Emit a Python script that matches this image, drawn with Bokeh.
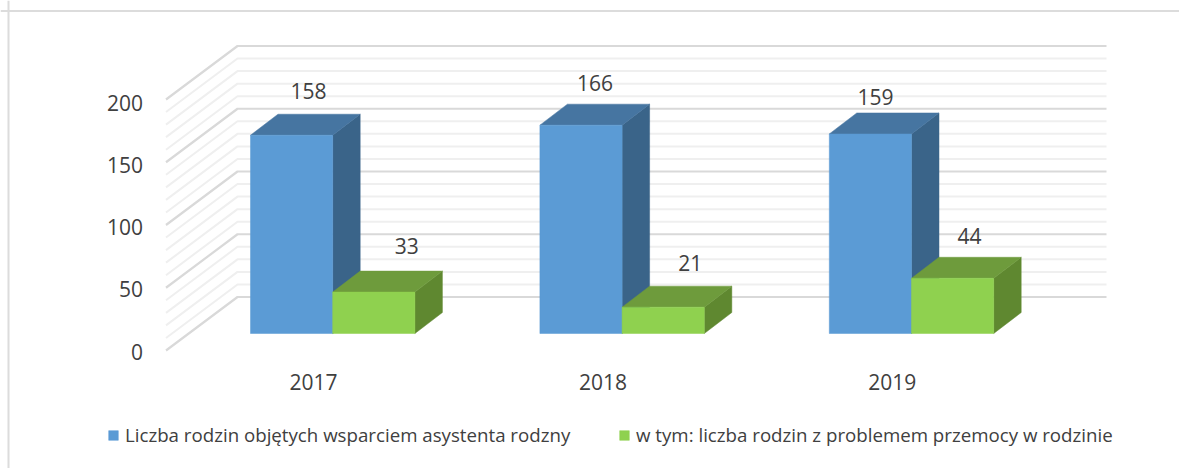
from bokeh.embed import file_html
from bokeh.resources import INLINE
from bokeh.plotting import figure
from bokeh.models import (FixedTicker, Legend, LegendItem, LinearAxis, Range1d, Span)
from bokeh.core.properties import value

# ---- data ----
years = [2017, 2018, 2019]
families = [158, 166, 159]
violence = [33, 21, 44]
series_names = ["Liczba rodzin objętych wsparciem asystenta rodzny",
                "w tym: liczba rodzin z problemem przemocy w rodzinie"]
y_ticks = [0, 50, 100, 150, 200]
grid_values = [0, 10, 20, 30, 40, 50, 60, 70, 80, 90, 100, 110, 120, 130, 140, 150, 160, 170, 180, 190, 200]

# ---- layout constants (page pixels of the 3-D projection) ----
W, H = 1179, 468
FONT = "Open Sans"
TEXT = "#404040"
PX_X = 289.4          # pixels per category
PX_Y = 1.255          # pixels per value unit
X0_PX, Y0_PX = 313.0, 350.0   # pixel of year 2017 label / of value 0 on the front wall edge
FRAME_L, FRAME_T = 0.0, 0.0

xd = lambda dpx: dpx / PX_X   # pixel distance -> data distance
yd = lambda dpx: dpx / PX_Y

x_start = years[0] + xd(FRAME_L - X0_PX)
x_end = x_start + xd(W)
y_end = yd(Y0_PX - FRAME_T)
y_start = y_end - yd(H)

p = figure(width=W, height=H, output_backend="svg", toolbar_location=None,
           x_range=Range1d(x_start, x_end), y_range=Range1d(y_start, y_end),
           x_axis_location=None, y_axis_location=None, min_border=0,
           background_fill_color="white", border_fill_color="white", outline_line_color=None)
p.grid.visible = False

# frame of the chart
p.add_layout(Span(location=x_start + xd(8), dimension="height", line_color="#dcdcdc", line_width=2))
p.add_layout(Span(location=y_end - yd(10.5), dimension="width", line_color="#dcdcdc", line_width=2))
# the frame starts at the border corner: mask what lies left of / above it
p.quad(left=[x_start], right=[x_start + xd(7)], bottom=[y_start], top=[y_end],
       fill_color="white", line_color=None)
p.quad(left=[x_start], right=[x_end], bottom=[y_end - yd(9.5)], top=[y_end],
       fill_color="white", line_color=None)

# walls
wall_left = years[0] + xd(165.5 - X0_PX)
wall_back = years[0] + xd(237 - X0_PX)
wall_right = years[0] + xd(1106 - X0_PX)
wall_dy = yd(53.5)
for major in (False, True):
    vals = [v for v in grid_values if (v % 50 == 0) == major]
    p.multi_line([[wall_left, wall_back, wall_right] for _ in vals],
                 [[v, v + wall_dy, v + wall_dy] for v in vals],
                 line_color="#d9d9d9" if major else "#efefef",
                 line_width=2.2 if major else 2.0)

# bars
BAR_W = xd(82.2)
DX, DY = xd(27.5), yd(21)
BASE = yd(17)

def box(lefts, vals, front, top, side):
    rights = [l + BAR_W for l in lefts]
    tops = [BASE + v for v in vals]
    p.patches([[r, r + DX, r + DX, r] for r in rights],
              [[BASE, BASE + DY, t + DY, t] for t in tops],
              fill_color=side, line_color=side, line_width=0.5)
    p.patches([[l, l + DX, r + DX, r] for l, r in zip(lefts, rights)],
              [[t, t + DY, t + DY, t] for t in tops],
              fill_color=top, line_color=top, line_width=0.5)
    return p.quad(left=lefts, right=rights, bottom=[BASE] * len(vals), top=tops,
                  fill_color=front, line_color=front, line_width=0.5)

left1 = [y + xd(250 - X0_PX) for y in years]
left2 = [l + BAR_W for l in left1]
r1 = box(left1, families, "#5B9BD5", "#4675A1", "#3A6489")
r2 = box(left2, violence, "#8FD14F", "#6E9B3C", "#5F8830")

# value labels, nudged by hand as in the source
nudge1 = [(17, 44), (14, 42), (5, 37)]
nudge2 = [(33, 46), (27, 44), (17, 42)]
lab_x = [l + BAR_W / 2 + xd(n[0]) for l, n in zip(left1, nudge1)] + \
        [l + BAR_W / 2 + xd(n[0]) for l, n in zip(left2, nudge2)]
lab_v = families + violence
lab_y = [BASE + v + yd(n[1]) for v, n in zip(lab_v, nudge1 + nudge2)]
p.text(x=lab_x, y=lab_y, text=[str(v) for v in lab_v], text_font=value(FONT),
       text_font_size="21px", text_color=TEXT, text_align="center", text_baseline="middle")

# value axis
p.extra_y_ranges["ticks"] = Range1d(start=-(FRAME_T + H - (Y0_PX + 1)) / 1.245,
                                    end=(Y0_PX + 1 - FRAME_T) / 1.245)
ax = LinearAxis(y_range_name="ticks", ticker=FixedTicker(ticks=y_ticks),
                fixed_location=years[0] + xd(156.5 - X0_PX),
                axis_line_color=None, major_tick_line_color=None, minor_tick_line_color=None,
                major_label_text_font=FONT, major_label_text_font_size="21px",
                major_label_text_color=TEXT, major_label_standoff=8)
p.add_layout(ax, "left")

# category axis
xax = LinearAxis(ticker=FixedTicker(ticks=years),
                 major_label_overrides={y: str(y) for y in years},
                 fixed_location=yd(Y0_PX - 363),
                 axis_line_color=None, major_tick_line_color=None, minor_tick_line_color=None,
                 major_label_text_font=FONT, major_label_text_font_size="21px",
                 major_label_text_color=TEXT, major_label_standoff=4)
p.add_layout(xax, "below")

# legend
leg_kw = dict(orientation="horizontal", background_fill_alpha=0, border_line_color=None,
              margin=0, padding=0, glyph_width=12, glyph_height=12, label_standoff=6,
              label_height=20,
              label_text_font=FONT, label_text_font_size="18.7px", label_text_color=TEXT)
p.add_layout(Legend(items=[LegendItem(label=series_names[0], renderers=[r1])],
                    location=(107 - FRAME_L, FRAME_T + H - 447), **leg_kw), "center")
p.add_layout(Legend(items=[LegendItem(label=series_names[1], renderers=[r2])],
                    location=(618 - FRAME_L, FRAME_T + H - 447), **leg_kw), "center")

open("out.html", "w").write(file_html(p, INLINE))
